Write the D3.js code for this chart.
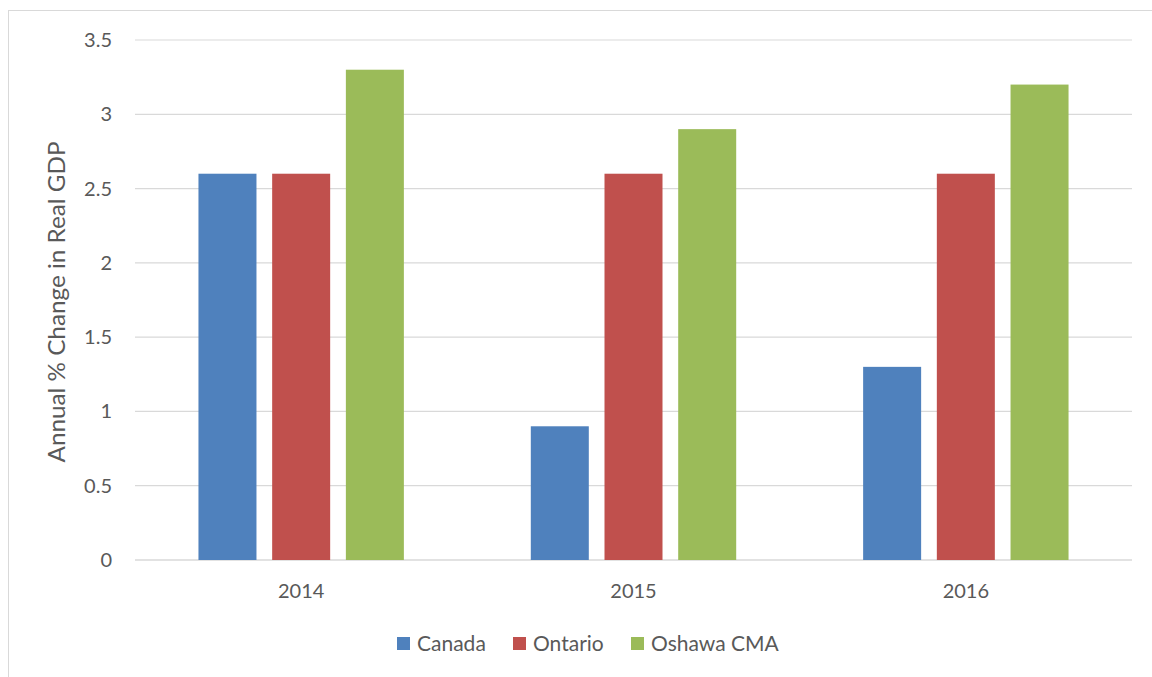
<!DOCTYPE html>
<html><head><meta charset="utf-8">
<script src="https://cdn.jsdelivr.net/npm/d3@7"></script>
<style>body{margin:0;background:#fff}svg{display:block}text{font-family:Lato,"Noto Sans",sans-serif;fill:#595959}</style>
</head><body>
<svg id="c" width="1152" height="677"></svg>
<script>
const categories = ["2014", "2015", "2016"];
const seriesNames = ["Canada", "Ontario", "Oshawa CMA"];
const canada = [2.6, 0.9, 1.3];
const ontario = [2.6, 2.6, 2.6];
const oshawa = [3.3, 2.9, 3.2];
const yTicks = [0, 0.5, 1, 1.5, 2, 2.5, 3, 3.5];
const colors = ["#4F81BD", "#C0504D", "#9BBB59"];
const series = [canada, ontario, oshawa];

const svg = d3.select("#c");
svg.append("rect").attr("x", 8.5).attr("y", 10.5).attr("width", 1160).attr("height", 680)
  .attr("fill", "none").attr("stroke", "#D9D9D9");

const x = d3.scaleBand().domain(categories).range([135, 1132]);
const y = d3.scaleLinear().domain([0, 3.5]).range([560, 40]);
const inner = d3.scaleBand().domain(d3.range(3)).range([-102.7, 102.7]).paddingInner(0.213).paddingOuter(0);

// gridlines
svg.append("g").selectAll("line").data(yTicks).join("line")
  .attr("x1", 135).attr("x2", 1132)
  .attr("y1", d => y(d)).attr("y2", d => y(d))
  .attr("stroke", "#D9D9D9").attr("stroke-width", d => d === 0 ? 1.5 : 1.2);

// y tick labels
svg.append("g").selectAll("text").data(yTicks).join("text")
  .attr("x", 112).attr("y", d => y(d)).attr("dy", "0.35em")
  .attr("text-anchor", "end").attr("font-size", 20).text(d => d);

// bars
categories.forEach((c, i) => {
  const cx = x(c) + x.bandwidth() / 2;
  series.forEach((s, j) => {
    svg.append("rect")
      .attr("x", cx + inner(j)).attr("width", inner.bandwidth())
      .attr("y", y(s[i])).attr("height", y(0) - y(s[i]))
      .attr("fill", colors[j]);
  });
});

// x labels
svg.append("g").selectAll("text").data(categories).join("text")
  .attr("x", d => x(d) + x.bandwidth() / 2).attr("y", 598)
  .attr("text-anchor", "middle").attr("font-size", 20).text(d => d);

// y title
svg.append("text").attr("transform", "translate(65,302) rotate(-90)")
  .attr("text-anchor", "middle").attr("font-size", 23)
  .attr("textLength", 321).attr("lengthAdjust", "spacingAndGlyphs")
  .text("Annual % Change in Real GDP");

// legend
const legX = [397, 513, 631];
const lg = svg.append("g").selectAll("g").data(seriesNames).join("g")
  .attr("transform", (d, i) => `translate(${legX[i]},637)`);
lg.append("rect").attr("width", 13).attr("height", 13).attr("fill", (d, i) => colors[i]);
lg.append("text").attr("x", 20).attr("y", 6.5).attr("dy", "0.36em").attr("font-size", 21).text(d => d);
</script>
</body></html>
